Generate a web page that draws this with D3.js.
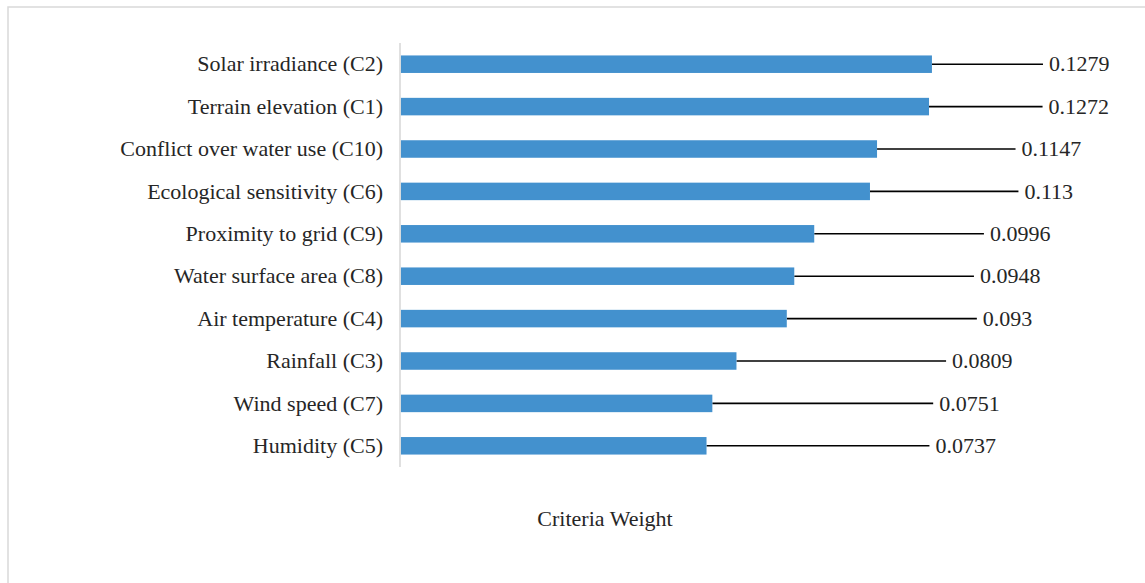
<!DOCTYPE html>
<html>
<head>
<meta charset="utf-8">
<script src="https://cdn.jsdelivr.net/npm/d3@7"></script>
<style>
  html, body { margin: 0; padding: 0; background: #fff; }
  svg { display: block; }
</style>
</head>
<body>
<svg id="chart" width="1145" height="583"></svg>
<script>
// Criteria, ordered top to bottom
const categories = [
  "Solar irradiance (C2)",
  "Terrain elevation (C1)",
  "Conflict over water use (C10)",
  "Ecological sensitivity (C6)",
  "Proximity to grid (C9)",
  "Water surface area (C8)",
  "Air temperature (C4)",
  "Rainfall (C3)",
  "Wind speed (C7)",
  "Humidity (C5)"
];
// Criteria weights
const weights = [0.1279, 0.1272, 0.1147, 0.113, 0.0996, 0.0948, 0.093, 0.0809, 0.0751, 0.0737];
// Where each value label's leader line ends (in weight units)
const leaderEnds = [0.1546, 0.1545, 0.1480, 0.1487, 0.1404, 0.1380, 0.1387, 0.1313, 0.1282, 0.1273];
const axisTitle = "Criteria Weight";

const FONT = "'Liberation Serif', Tinos, 'Times New Roman', Times, serif";
const INK = "#262626";
const FS = 22;

const svg = d3.select("#chart");

// Outer chart frame
svg.append("rect")
  .attr("x", 8).attr("y", 7)
  .attr("width", 1160).attr("height", 600)
  .attr("fill", "none")
  .attr("stroke", "#d9d9d9")
  .attr("stroke-width", 1.5);

const plotLeft = 400, plotTop = 43, plotBottom = 467;
const x = d3.scaleLinear().domain([0, 0.14]).range([plotLeft, plotLeft + 0.14 * 4159]);
const y = d3.scaleBand().domain(categories).range([plotTop, plotBottom])
  .paddingInner(0.587).paddingOuter(0.2935);

const rows = categories.map((c, i) => ({ c, v: weights[i], end: leaderEnds[i] }));

// Leader lines from bar end to label
svg.append("g").selectAll("line").data(rows).join("line")
  .attr("x1", d => x(d.v)).attr("x2", d => x(d.end))
  .attr("y1", d => y(d.c) + y.bandwidth() / 2)
  .attr("y2", d => y(d.c) + y.bandwidth() / 2)
  .attr("stroke", "#000").attr("stroke-width", 1.6);

// Bars
svg.append("g").selectAll("rect").data(rows).join("rect")
  .attr("x", x(0) + 0.8)
  .attr("y", d => y(d.c))
  .attr("width", d => x(d.v) - x(0) - 0.8)
  .attr("height", y.bandwidth())
  .attr("fill", "#4391ce");

// Category axis line
svg.append("line")
  .attr("x1", x(0)).attr("x2", x(0))
  .attr("y1", plotTop).attr("y2", plotBottom)
  .attr("stroke", "#d9d9d9").attr("stroke-width", 1.6);

// Category labels
svg.append("g").selectAll("text").data(rows).join("text")
  .attr("x", x(0) - 17)
  .attr("y", d => y(d.c) + y.bandwidth() / 2)
  .attr("dy", "0.33em")
  .attr("text-anchor", "end")
  .attr("font-family", FONT).attr("fill", INK)
  .attr("font-size", FS)
  .text(d => d.c);

// Value labels
svg.append("g").selectAll("text").data(rows).join("text")
  .attr("x", d => x(d.end) + 6)
  .attr("y", d => y(d.c) + y.bandwidth() / 2)
  .attr("dy", "0.33em")
  .attr("font-family", FONT).attr("fill", INK)
  .attr("font-size", FS)
  .text(d => String(d.v));

// Axis title
svg.append("text")
  .attr("x", 605).attr("y", 526)
  .attr("text-anchor", "middle")
  .attr("font-family", FONT).attr("fill", INK)
  .attr("font-size", FS)
  .text(axisTitle);
</script>
</body>
</html>
